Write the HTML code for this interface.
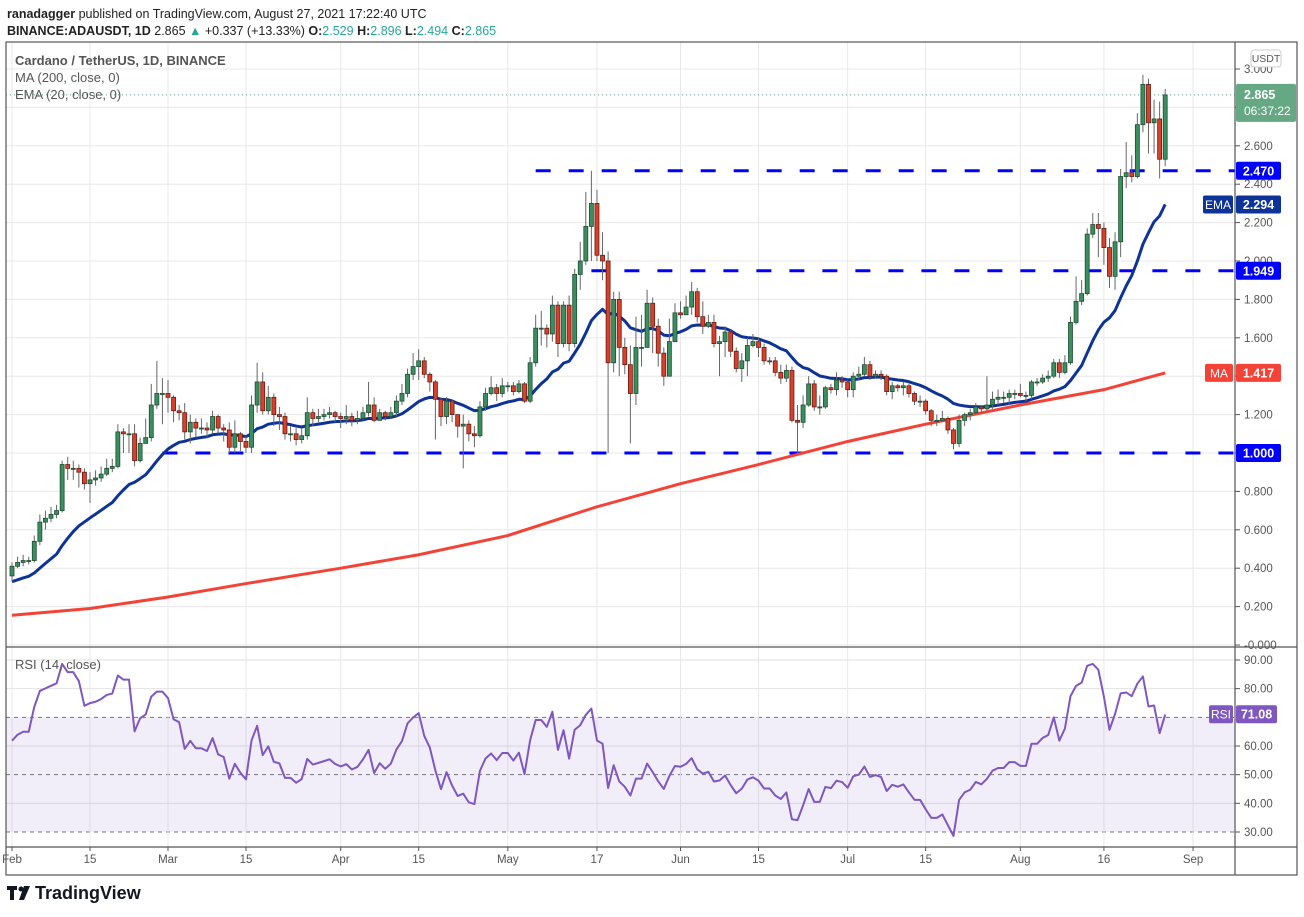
<!DOCTYPE html>
<html><head><meta charset="utf-8">
<style>
html,body{margin:0;padding:0;background:#fff;}
body{width:1304px;height:912px;overflow:hidden;font-family:"Liberation Sans",sans-serif;}
svg text{font-family:"Liberation Sans",sans-serif;}
</style></head>
<body>
<svg id="chart" width="1304" height="912" xmlns="http://www.w3.org/2000/svg">
  <g>
    <text x="7" y="18" font-size="12.5" fill="#222"><tspan font-weight="bold">ranadagger</tspan> published on TradingView.com, August 27, 2021 17:22:40 UTC</text>
    <text x="7" y="35" font-size="12.5" fill="#222"><tspan font-weight="bold">BINANCE:ADAUSDT, 1D</tspan>  2.865 <tspan fill="#26a69a">▲</tspan> +0.337 (+13.33%) <tspan font-weight="bold">O:</tspan><tspan fill="#26a69a">2.529</tspan> <tspan font-weight="bold">H:</tspan><tspan fill="#26a69a">2.896</tspan> <tspan font-weight="bold">L:</tspan><tspan fill="#26a69a">2.494</tspan> <tspan font-weight="bold">C:</tspan><tspan fill="#26a69a">2.865</tspan></text>
  </g>
  <g id="grid"></g>
  <rect x="6" y="717" width="1229" height="115" fill="#7e57c2" fill-opacity="0.1"/>
  <g id="levels"></g>
  <g id="ma"></g>
  <g id="ema"></g>
  <g id="candles"></g>
  <g id="rsi"></g>
  <g id="axes"></g>
  <g fill="none" stroke="#555" stroke-width="1.2">
    <rect x="6" y="42" width="1291" height="833"/>
    <line x1="1235" y1="42" x2="1235" y2="875"/>
    <line x1="6" y1="647" x2="1297" y2="647"/>
    <line x1="6" y1="847" x2="1297" y2="847"/>
  </g>
  <g font-size="13" fill="#555">
    <text x="15" y="65" font-weight="bold" fill="#555">Cardano / TetherUS, 1D, BINANCE</text>
    <text x="15" y="82">MA (200, close, 0)</text>
    <text x="15" y="99">EMA (20, close, 0)</text>
    <text x="15" y="669">RSI (14, close)</text>
  </g>
  <g id="labels"></g>
  <g>
    <path d="M7 886h10v4h-3v10h-4v-10h-3z" fill="#131722"/>
    <circle cx="21" cy="889" r="2.5" fill="#131722"/>
    <path d="M24 886h6l-6 14h-5z" fill="#131722"/>
    <text x="35" y="899" font-size="18" font-weight="bold" fill="#131722">TradingView</text>
  </g>
</svg>
<script>
const closes=[0.41,0.43,0.44,0.44,0.54,0.64,0.66,0.68,0.70,0.94,
0.92,0.92,0.90,0.84,0.86,0.87,0.89,0.92,0.93,1.11,
1.10,1.10,0.96,1.05,1.08,1.25,1.31,1.31,1.29,1.22,
1.21,1.11,1.16,1.13,1.13,1.12,1.19,1.13,1.12,1.03,
1.10,1.06,1.03,1.25,1.37,1.22,1.29,1.20,1.19,1.10,
1.10,1.07,1.09,1.21,1.18,1.19,1.20,1.21,1.19,1.18,
1.19,1.17,1.18,1.21,1.25,1.17,1.21,1.19,1.21,1.27,
1.31,1.41,1.45,1.48,1.41,1.37,1.28,1.19,1.27,1.20,
1.14,1.15,1.10,1.09,1.24,1.31,1.34,1.31,1.35,1.35,
1.32,1.36,1.27,1.47,1.65,1.65,1.62,1.77,1.57,1.77,
1.57,1.93,2.00,2.18,2.30,2.03,2.00,1.47,1.80,1.55,
1.46,1.31,1.55,1.55,1.78,1.66,1.52,1.40,1.58,1.73,
1.72,1.76,1.84,1.71,1.66,1.68,1.57,1.58,1.63,1.53,
1.44,1.48,1.56,1.58,1.55,1.48,1.48,1.42,1.39,1.43,
1.17,1.16,1.25,1.36,1.24,1.24,1.34,1.33,1.38,1.37,
1.33,1.40,1.41,1.46,1.40,1.41,1.40,1.32,1.35,1.34,
1.35,1.31,1.27,1.27,1.22,1.17,1.17,1.18,1.12,1.05,
1.17,1.20,1.21,1.24,1.23,1.25,1.28,1.29,1.29,1.31,
1.31,1.30,1.30,1.37,1.37,1.39,1.40,1.47,1.42,1.47,
1.68,1.79,1.83,2.14,2.19,2.17,2.07,1.92,2.10,2.44,
2.46,2.44,2.71,2.92,2.72,2.74,2.53,2.865];
const highs=[0.43,0.46,0.47,0.46,0.57,0.68,0.70,0.72,0.73,0.96,
0.98,0.96,0.94,0.92,0.90,0.91,0.93,0.97,0.97,1.15,
1.13,1.15,1.15,1.08,1.18,1.36,1.48,1.39,1.38,1.30,
1.25,1.26,1.20,1.18,1.18,1.16,1.22,1.20,1.15,1.16,
1.17,1.11,1.09,1.30,1.47,1.42,1.35,1.31,1.24,1.21,
1.14,1.13,1.13,1.29,1.23,1.23,1.23,1.24,1.22,1.21,
1.25,1.21,1.22,1.24,1.37,1.29,1.23,1.22,1.24,1.30,
1.36,1.44,1.52,1.54,1.50,1.42,1.38,1.29,1.29,1.28,
1.20,1.20,1.17,1.14,1.27,1.34,1.40,1.36,1.39,1.37,
1.37,1.38,1.37,1.50,1.72,1.74,1.67,1.82,1.79,1.79,
1.82,1.96,2.10,2.36,2.47,2.37,2.15,2.05,1.84,1.84,
1.60,1.56,1.71,1.72,1.85,1.81,1.70,1.55,1.70,1.78,
1.79,1.82,1.89,1.86,1.79,1.72,1.72,1.61,1.66,1.64,
1.55,1.52,1.60,1.62,1.60,1.57,1.50,1.50,1.46,1.46,
1.45,1.25,1.30,1.40,1.38,1.30,1.35,1.36,1.42,1.40,
1.38,1.42,1.45,1.50,1.48,1.43,1.43,1.41,1.37,1.36,
1.37,1.36,1.32,1.30,1.28,1.23,1.20,1.22,1.19,1.13,
1.20,1.21,1.23,1.26,1.25,1.40,1.32,1.33,1.32,1.33,
1.33,1.36,1.32,1.38,1.39,1.41,1.43,1.49,1.49,1.51,
1.71,1.92,1.90,2.17,2.25,2.25,2.20,2.12,2.15,2.48,
2.62,2.55,2.77,2.97,2.95,2.84,2.83,2.896];
const lows=[0.33,0.40,0.41,0.42,0.43,0.52,0.60,0.64,0.66,0.69,
0.86,0.86,0.82,0.81,0.74,0.83,0.85,0.88,0.90,0.92,
1.00,1.00,0.93,0.95,1.05,1.06,1.23,1.15,1.21,1.16,
1.17,1.07,1.05,1.08,1.10,1.08,1.10,1.10,1.06,1.00,
1.00,1.01,1.00,1.00,1.21,1.20,1.20,1.14,1.12,1.07,
1.06,1.04,1.05,1.07,1.14,1.16,1.17,1.18,1.16,1.13,
1.15,1.14,1.15,1.17,1.19,1.16,1.17,1.17,1.18,1.19,
1.25,1.29,1.38,1.38,1.39,1.32,1.07,1.14,1.15,1.16,
1.08,0.92,1.06,1.03,1.08,1.22,1.30,1.27,1.29,1.32,
1.30,1.31,1.26,1.26,1.45,1.56,1.55,1.58,1.50,1.55,
1.53,1.55,1.85,1.98,2.00,2.00,1.90,1.00,1.42,1.40,
1.41,1.05,1.25,1.45,1.55,1.52,1.45,1.35,1.40,1.58,
1.70,1.72,1.72,1.68,1.62,1.65,1.55,1.40,1.50,1.50,
1.42,1.37,1.40,1.55,1.50,1.46,1.46,1.40,1.36,1.37,
1.16,1.00,1.13,1.24,1.22,1.20,1.23,1.31,1.30,1.34,
1.29,1.29,1.38,1.40,1.38,1.39,1.38,1.30,1.28,1.32,
1.30,1.29,1.25,1.24,1.20,1.14,1.14,1.16,1.10,1.02,
1.03,1.14,1.17,1.20,1.21,1.22,1.23,1.25,1.26,1.25,
1.28,1.29,1.27,1.28,1.35,1.36,1.37,1.39,1.39,1.41,
1.46,1.67,1.77,1.82,2.12,2.02,1.98,1.86,1.85,2.02,
2.38,2.41,2.43,2.67,2.56,2.56,2.43,2.494];
const firstOpen=0.36;
const emaSeed=0.33;
const maDays=[0,14,28,42,59,73,89,105,120,134,150,164,181,196,207];
const maValues=[0.155,0.19,0.25,0.32,0.40,0.47,0.57,0.72,0.84,0.94,1.06,1.15,1.25,1.33,1.417];
const rsiSeedGain=0.014, rsiSeedLoss=0.011;
const priceTicks=[3.0,2.8,2.6,2.4,2.2,2.0,1.8,1.6,1.4,1.2,1.0,0.8,0.6,0.4,0.2,0.0];
const rsiTicks=[90,80,70,60,50,40,30];
const timeDays=[0,14,28,42,59,73,89,105,120,134,150,164,181,196,212];
const timeLabels=["Feb","15","Mar","15","Apr","15","May","17","Jun","15","Jul","15","Aug","16","Sep"];
const levelValues=[2.470,1.949,1.000];
const levelStartDays=[94,104,27];

const NS="http://www.w3.org/2000/svg";
const X=d=>12+5.571*d;
const Y=p=>645-192*p;
const R=v=>832-(v-30)*2.867;
function mk(tag,attrs,parent){const e=document.createElementNS(NS,tag);for(const k in attrs)e.setAttribute(k,attrs[k]);parent.appendChild(e);return e;}
const grid=document.getElementById('grid');
const axes=document.getElementById('axes');
priceTicks.forEach(p=>{
  const l=mk('line',{x1:6,x2:1235,y1:Y(p),y2:Y(p),stroke:'#e8e8e8','stroke-width':1},grid);
  
  
  mk('line',{x1:1235,x2:1240,y1:Y(p),y2:Y(p),stroke:'#555'},axes);
  const t=mk('text',{x:1244,y:Y(p)+4,'font-size':11.5,fill:'#555'},axes);
  t.textContent=(p===0?'-0.000':p.toFixed(3));
  
  
});
rsiTicks.forEach(v=>{
  const dashed=(v===70||v===50||v===30);
  const l=mk('line',{x1:6,x2:1235,y1:R(v),y2:R(v),stroke:dashed?'#777':'#e2e2e2','stroke-width':1,'stroke-dasharray':dashed?'4,4':'none'},grid);
  
  
  if(v!==70){
    mk('line',{x1:1235,x2:1240,y1:R(v),y2:R(v),stroke:'#555'},axes);
    const t=mk('text',{x:1244,y:R(v)+4,'font-size':11.5,fill:'#555'},axes);
    t.textContent=v.toFixed(2);
    
    
  }
});
timeDays.forEach((d,i)=>{
  const l=mk('line',{x1:X(d),x2:X(d),y1:42,y2:847,stroke:'#e8e8e8','stroke-width':1},grid);
  
  
  mk('line',{x1:X(d),x2:X(d),y1:847,y2:851,stroke:'#555'},axes);
  const t=mk('text',{x:X(d),y:863,'font-size':11.5,fill:'#555','text-anchor':'middle'},axes);
  t.textContent=timeLabels[i];
  
  
});
const lv=document.getElementById('levels');
levelValues.forEach((v,i)=>{
  const l=mk('line',{x1:X(levelStartDays[i]),x2:1235,y1:Y(v),y2:Y(v),stroke:'#0000ff','stroke-width':3,'stroke-dasharray':'15,18'},lv);
  
  
});
const lp=mk('line',{x1:6,x2:1235,y1:Y(closes[closes.length-1]),y2:Y(closes[closes.length-1]),stroke:'#5a9a7a','stroke-width':1,'stroke-dasharray':'1,3'},lv);


const maPts=maDays.map((d,i)=>X(d)+','+Y(maValues[i])).join(' ');
const maL=mk('polyline',{points:maPts,fill:'none',stroke:'#f44336','stroke-width':3,'stroke-linejoin':'round'},document.getElementById('ma'));


const k=2/21;let e=emaSeed;const emaVals=[];
closes.forEach((c,i)=>{ if(i>0) e=e+(c-e)*k; else e=emaSeed; emaVals.push(e); });
const emaL=mk('polyline',{points:emaVals.map((v,i)=>X(i)+','+Y(v)).join(' '),fill:'none',stroke:'#0d3399','stroke-width':3,'stroke-linejoin':'round'},document.getElementById('ema'));


const cg=document.getElementById('candles');
closes.forEach((c,i)=>{
  const o=i===0?firstOpen:closes[i-1];
  const up=c>=o;
  const g=mk('g',{},cg);
  
  
  mk('line',{x1:X(i),x2:X(i),y1:Y(highs[i]),y2:Y(lows[i]),stroke:'#666','stroke-width':1},g);
  const top=Y(Math.max(o,c)),bot=Y(Math.min(o,c));
  mk('rect',{x:X(i)-2,y:top,width:4,height:Math.max(1,bot-top),fill:up?'#3b8f5f':'#d7412b',stroke:up?'#1e4d33':'#6b1a12','stroke-width':0.8},g);
});
let ag=rsiSeedGain,al=rsiSeedLoss;const rsiVals=[];
closes.forEach((c,i)=>{
  const prev=i===0?firstOpen:closes[i-1];
  const ch=c-prev;
  ag=(ag*13+Math.max(ch,0))/14; al=(al*13+Math.max(-ch,0))/14;
  rsiVals.push(100-100/(1+ag/al));
});
const rl=mk('polyline',{points:rsiVals.map((v,i)=>X(i)+','+R(v)).join(' '),fill:'none',stroke:'#7e57c2','stroke-width':2,'stroke-linejoin':'round'},document.getElementById('rsi'));


const lb=document.getElementById('labels');
function box(x,y,w,h,fill,txt,name,fs,bold){
  const g=mk('g',{},lb);
  
  
  mk('rect',{x:x,y:y,width:w,height:h,rx:2,fill:fill},g);
  const t=mk('text',{x:x+w/2,y:y+h/2+4.5,'font-size':fs||12.5,fill:'#fff','text-anchor':'middle','font-weight':bold?'bold':'normal'},g);
  t.textContent=txt;
  return g;
}
const last=closes[closes.length-1];
box(1236,Y(last)-11,60,38,'#66a883','', 'last-price-label');
const t1=mk('text',{x:1244,y:Y(last)+4,'font-size':12.5,'font-weight':'bold',fill:'#fff'},lb);t1.textContent=last.toFixed(3);


const t2=mk('text',{x:1244,y:Y(last)+20,'font-size':12,fill:'#fff'},lb);t2.textContent='06:37:22';


box(1236,Y(2.470)-9,45,18,'#0000ff','2.470','level-label-2470',12.5,true);
box(1236,Y(1.949)-9,45,18,'#0000ff','1.949','level-label-1949',12.5,true);
box(1236,Y(1.000)-9,45,18,'#0000ff','1.000','level-label-1000',12.5,true);
const emaLast=2.294;
box(1203,Y(emaLast)-9,30,18,'#0d3399','EMA','ema-tag',12,false);
box(1236,Y(emaLast)-9,45,18,'#0d3399',emaLast.toFixed(3),'ema-value-label',12.5,true);
box(1205,Y(1.417)-9,28,18,'#f44336','MA','ma-tag',12,false);
box(1236,Y(1.417)-9,45,18,'#f44336','1.417','ma-value-label',12.5,true);
box(1209,R(71.08)-9,24,18,'#7e57c2','RSI','rsi-tag',12,false);
box(1236,R(71.08)-9,41,18,'#7e57c2','71.08','rsi-value-label',12.5,true);
const ub=mk('g',{},lb);


mk('rect',{x:1251,y:50,width:30,height:17,rx:3,fill:'#fff',stroke:'#ccc'},ub);
const ut=mk('text',{x:1266,y:62,'font-size':10.5,fill:'#555','text-anchor':'middle'},ub);ut.textContent='USDT';
</script>
</body></html>
